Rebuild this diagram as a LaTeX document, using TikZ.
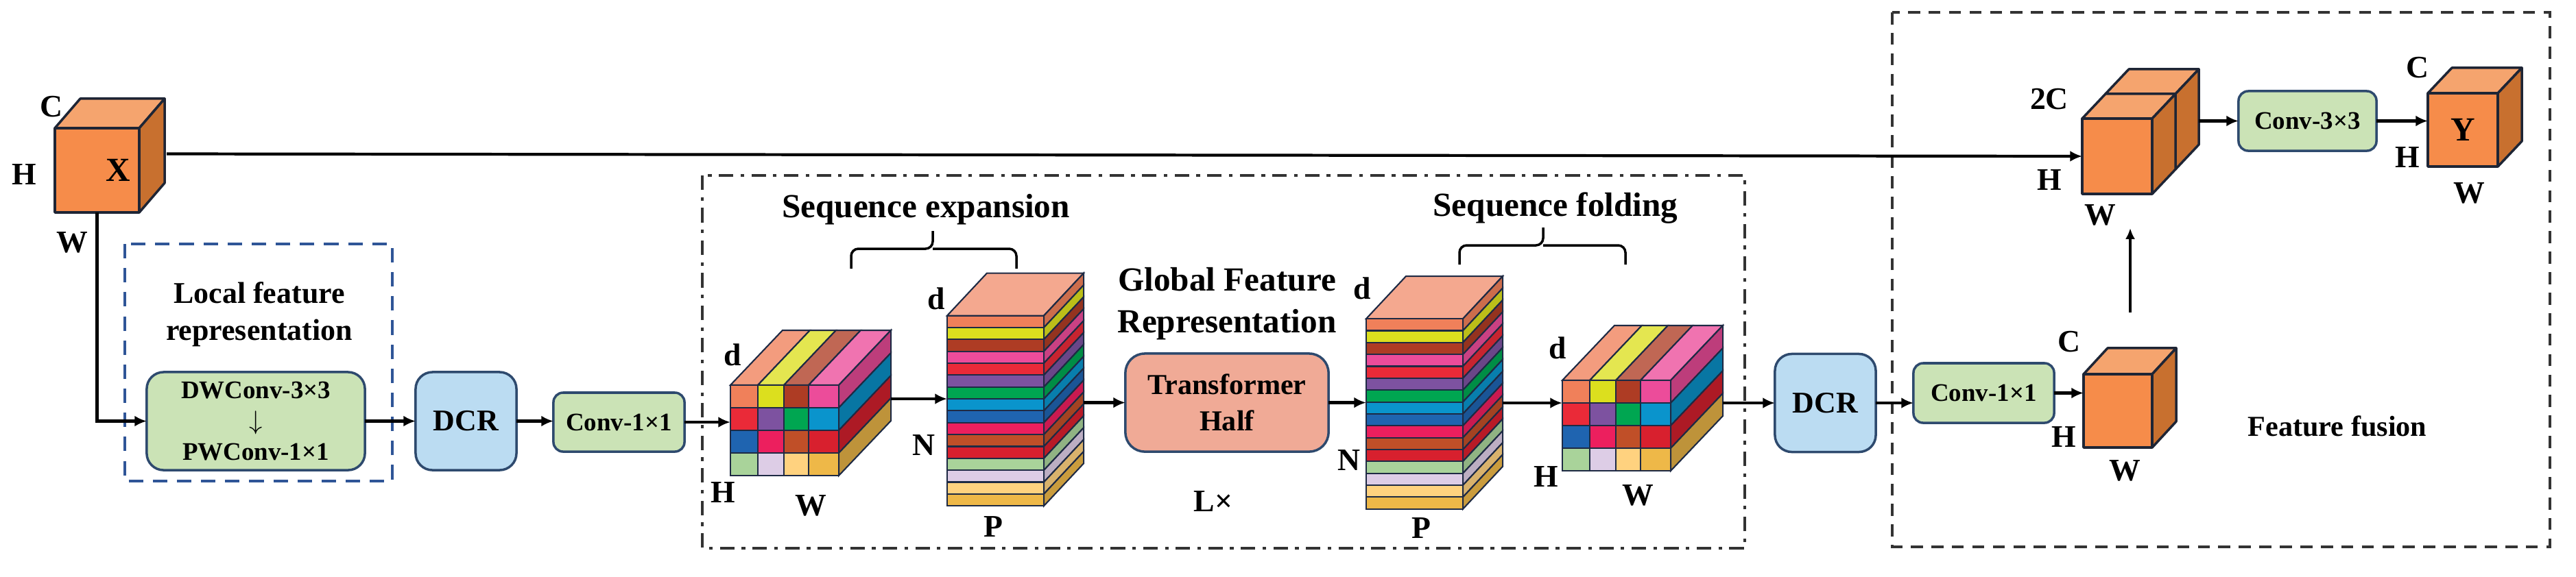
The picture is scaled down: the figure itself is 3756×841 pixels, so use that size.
\documentclass[tikz,border=0pt]{standalone}
\usepackage{fontspec}
\setmainfont{Liberation Serif}
\usepackage{tikz}
\usetikzlibrary{arrows.meta, positioning, calc}
\definecolor{cubeface}{HTML}{F68C4A}
\definecolor{cubetop}{HTML}{F5A46E}
\definecolor{cubeside}{HTML}{C8702F}
\definecolor{cubeline}{HTML}{1E2535}
\definecolor{cellline}{HTML}{1E2A44}
\definecolor{boxline}{HTML}{2E4A6E}
\definecolor{boxgreen}{HTML}{CBE3B6}
\definecolor{boxblue}{HTML}{BBDCF2}
\definecolor{boxsalmon}{HTML}{F0AA96}
\definecolor{stacktop}{HTML}{F4A88F}
\definecolor{localblue}{HTML}{2F5597}
\definecolor{frameline}{HTML}{333333}
\definecolor{csalmon}{HTML}{F0805A}
\definecolor{cyellow}{HTML}{DCDF1E}
\definecolor{cbrown}{HTML}{AE3C24}
\definecolor{cpink}{HTML}{EC4C9A}
\definecolor{cred}{HTML}{EA2A38}
\definecolor{cpurple}{HTML}{7D52A0}
\definecolor{cgreen}{HTML}{00A651}
\definecolor{ccyan}{HTML}{0A94CC}
\definecolor{cblue}{HTML}{1F64B0}
\definecolor{ccrimson}{HTML}{EC1F5E}
\definecolor{crust}{HTML}{C04F28}
\definecolor{cscarlet}{HTML}{D8202E}
\definecolor{csage}{HTML}{A9D39A}
\definecolor{clavender}{HTML}{DDCDE6}
\definecolor{cpeach}{HTML}{FFD27F}
\definecolor{cgold}{HTML}{EEB848}
\def\gridcolors{csalmon,cyellow,cbrown,cpink,cred,cpurple,cgreen,ccyan,cblue,ccrimson,crust,cscarlet,csage,clavender,cpeach,cgold}
\newcommand{\cubesides}[3]{%
  \draw[cubeedge, fill=cubetop] (#1.north west) -- ++(#2,#3) -- ($(#1.north east)+(#2,#3)$) -- (#1.north east) -- cycle;
  \draw[cubeedge, fill=cubeside] (#1.north east) -- ++(#2,#3) -- ($(#1.south east)+(#2,#3)$) -- (#1.south east) -- cycle;
}
\newcommand{\gridcube}[1]{%
  \foreach \col/\xa/\xb in {csalmon/0/40, cyellow/40/78, cbrown/78/114, cpink/114/158}
    \draw[celledge, fill=\col!78!white] ($(#1.north west)+(\xa,0)$) -- ++(76,-80) -- ++(\xb-\xa,0) -- ++(-76,80) -- cycle;
  \foreach \col/\ya in {cpink/0, ccyan/33, cscarlet/66, cgold/99}
    \draw[celledge, fill=\col!80!black] ($(#1.north east)+(0,\ya)$) -- ++(76,-80) -- ++(0,33) -- ++(-76,80) -- cycle;
  \foreach \col [count=\k from 0] in \gridcolors {
    \pgfmathtruncatemacro\gr{\k/4}
    \pgfmathtruncatemacro\gc{mod(\k,4)}
    \pgfmathsetmacro\xa{{0,40,78,114}[\gc]}
    \pgfmathsetmacro\xb{{40,78,114,158}[\gc]}
    \draw[celledge, fill=\col] ($(#1.north west)+(\xa,\gr*33)$) rectangle ($(#1.north west)+(\xb,\gr*33+33)$);
  }
}
\newcommand{\stripestack}[1]{%
  \draw[celledge, fill=stacktop] (#1.north west) -- ++(58,-62) -- ++(141,0) -- ++(-58,62) -- cycle;
  \foreach \col [count=\k from 0] in \gridcolors {
    \draw[celledge, fill=\col] ($(#1.north west)+(0,\k*17.35)$) rectangle ++(141,17.35);
    \draw[celledge, fill=\col!85!black] ($(#1.north east)+(0,\k*17.35)$) -- ++(58,-62) -- ++(0,17.35) -- ++(-58,62) -- cycle;
  }
}

\begin{document}
\begin{tikzpicture}[x=0.01cm, y=-0.01cm, font=\bfseries,
  arr/.style={line width=1.2pt, -{Latex[length=5pt,width=4.5pt]}},
  arrthin/.style={line width=0.9pt, -{Latex[length=4.5pt,width=4pt]}},
  cubeedge/.style={draw=cubeline, line width=1pt, line join=round},
  cubefront/.style={cubeedge, fill=cubeface, inner sep=0, outer sep=0},
  celledge/.style={draw=cellline, line width=0.6pt},
  gridfront/.style={minimum width=1.58cm, minimum height=1.32cm, inner sep=0, outer sep=0},
  stackfront/.style={minimum width=1.41cm, minimum height=2.776cm, inner sep=0, outer sep=0},
  procbox/.style={draw=boxline, line width=1pt, inner sep=0, outer sep=0, align=center},
  convbox/.style={procbox, fill=boxgreen, rounded corners=4pt, font=\fontsize{10.5}{12.8}\selectfont\bfseries},
  dcrbox/.style={procbox, fill=boxblue, rounded corners=7pt, minimum width=1.47cm, minimum height=1.43cm, font=\fontsize{12.5}{15}\selectfont\bfseries},
  lbl/.style={font=\fontsize{13}{15}\selectfont\bfseries, inner sep=0},
  title/.style={font=\fontsize{14}{17.5}\selectfont\bfseries, inner sep=0, align=center},
  brk/.style={line width=1pt, rounded corners=3pt}]
\useasboundingbox (0,0) rectangle (3756,841);

\draw[localblue, line width=1pt, dash pattern=on 6pt off 4pt] (182,356) rectangle (572,702);
\draw[frameline, line width=1pt, dash pattern=on 6pt off 3pt on 1.5pt off 3pt] (1024,256) rectangle (2544,800);
\draw[frameline, line width=1pt, dash pattern=on 5pt off 3.5pt] (2759,18) rectangle (3718,798);

\node[cubefront, minimum width=1.23cm, minimum height=1.23cm] (X) at (141.5,248.5) {};
\cubesides{X}{37}{-43}
\node[lbl, font=\fontsize{14}{16}\selectfont\bfseries] (xX) at (172,248) {X};
\node[lbl] (xC) at (75,156) {C};
\node[lbl] (xH) at (35,255) {H};
\node[lbl] (xW) at (105,354) {W};

\node[title, font=\fontsize{12.5}{15.4}\selectfont\bfseries] (loc) at (378,459) {Local feature\\representation};
\node[convbox, minimum width=3.18cm, minimum height=1.43cm, rounded corners=7pt] (dw) at (373,614.5) {DWConv-3×3\\$\downarrow$\\PWConv-1×1};
\node[dcrbox] (d1) at (679.5,614.5) {DCR};
\node[convbox, minimum width=1.91cm, minimum height=0.86cm] (c1) at (902.5,616) {Conv-1×1};

\node[gridfront] (g1) at (1144,628) {};
\gridcube{g1}
\node[lbl] (g1d) at (1068,518) {d};
\node[lbl] (g1H) at (1054,719) {H};
\node[lbl] (g1W) at (1182,738) {W};

\node[stackfront] (s1) at (1451.5,599.5) {};
\stripestack{s1}
\node[lbl] (s1d) at (1365,436) {d};
\node[lbl] (s1N) at (1347,650) {N};
\node[lbl] (s1P) at (1448,769) {P};

\node[title] (seqE) at (1350,306) {Sequence expansion};
\draw[brk] (1241,392) |- (1360,363) -- (1360,337);
\draw[brk] (1360,363) -| (1482,392);

\node[title] (glob) at (1789,443) {Global Feature\\Representation};
\node[procbox, fill=boxsalmon, rounded corners=8pt, minimum width=2.96cm, minimum height=1.43cm, font=\fontsize{12}{15}\selectfont\bfseries] (tr) at (1789,587.5) {Transformer\\Half};
\node[lbl] (rep) at (1769,732) {L×};

\node[stackfront] (s2) at (2062.5,604) {};
\stripestack{s2}
\node[lbl] (s2d) at (1986,421) {d};
\node[lbl] (s2N) at (1967,672) {N};
\node[lbl] (s2P) at (2072,771) {P};

\node[title] (seqF) at (2268,304) {Sequence folding};
\draw[brk] (2128,386) |- (2250,358) -- (2250,332);
\draw[brk] (2250,358) -| (2370,386);

\node[gridfront] (g2) at (2357,621) {};
\gridcube{g2}
\node[lbl] (g2d) at (2271,508) {d};
\node[lbl] (g2H) at (2254,696) {H};
\node[lbl] (g2W) at (2388,723) {W};

\node[dcrbox] (d2) at (2661.5,588) {DCR};
\node[convbox, minimum width=2.05cm, minimum height=0.87cm] (c2) at (2892.5,573.5) {Conv-1×1};

\node[cubefront, minimum width=1.00cm, minimum height=1.07cm] (cc) at (3088,599.5) {};
\cubesides{cc}{35}{-38}
\node[lbl] (ccC) at (3017,499) {C};
\node[lbl] (ccH) at (3009,638) {H};
\node[lbl] (ccW) at (3098,687) {W};

\node[cubefront, minimum width=1.02cm, minimum height=1.10cm] (fb) at (3121,192) {};
\cubesides{fb}{34}{-36}
\node[cubefront, minimum width=1.02cm, minimum height=1.10cm] (fa) at (3087,228) {};
\cubesides{fa}{34}{-36}
\node[lbl] (faC) at (2988,145) {2C};
\node[lbl] (faH) at (2988,263) {H};
\node[lbl] (faW) at (3062,314) {W};

\node[convbox, minimum width=2.01cm, minimum height=0.87cm] (c3) at (3364.5,176.5) {Conv-3×3};

\node[cubefront, minimum width=1.02cm, minimum height=1.07cm, font=\fontsize{14}{16}\selectfont\bfseries] (Y) at (3591,189.5) {Y};
\cubesides{Y}{35}{-37}
\node[lbl] (yC) at (3525,99) {C};
\node[lbl] (yH) at (3510,230) {H};
\node[lbl] (yW) at (3600,282) {W};

\node[font=\fontsize{12}{15}\selectfont\bfseries] (fus) at (3408,622) {Feature fusion};

\coordinate (fuseA) at (3106,456);
\coordinate (fuseB) at (3106,333);

\draw[arr] ($(X.east)+(40,-24)$) -- (fa.west);
\draw[arr] (X.south) |- (dw.west);
\draw[arr] (dw.east) -- (d1.west);
\draw[arr] (d1.east) -- (d1.east -| c1.west);
\draw[arr] (c1.east) -- (c1.east -| g1.west);
\draw[arr] ($(g1.east)+(76,-46)$) coordinate (g1out) -- (g1out -| s1.west);
\draw[arr] ($(tr.west -| s1.east)+(58,0)$) -- (tr.west);
\draw[arr] (tr.east) -- (tr.east -| s2.west);
\draw[arr] ($(s2.east)+(58,-16)$) coordinate (s2out) -- (s2out -| g2.west);
\draw[arr] ($(d2.west -| g2.east)+(76,0)$) -- (d2.west);
\draw[arr] (d2.east) -- (d2.east -| c2.west);
\draw[arr] (c2.east) -- (c2.east -| cc.west);
\draw[arrthin] (fuseA) -- (fuseB);
\draw[arr] ($(c3.west -| fb.east)+(34,0)$) -- (c3.west);
\draw[arr] (c3.east) -- (c3.east -| Y.west);
\end{tikzpicture}
\end{document}
